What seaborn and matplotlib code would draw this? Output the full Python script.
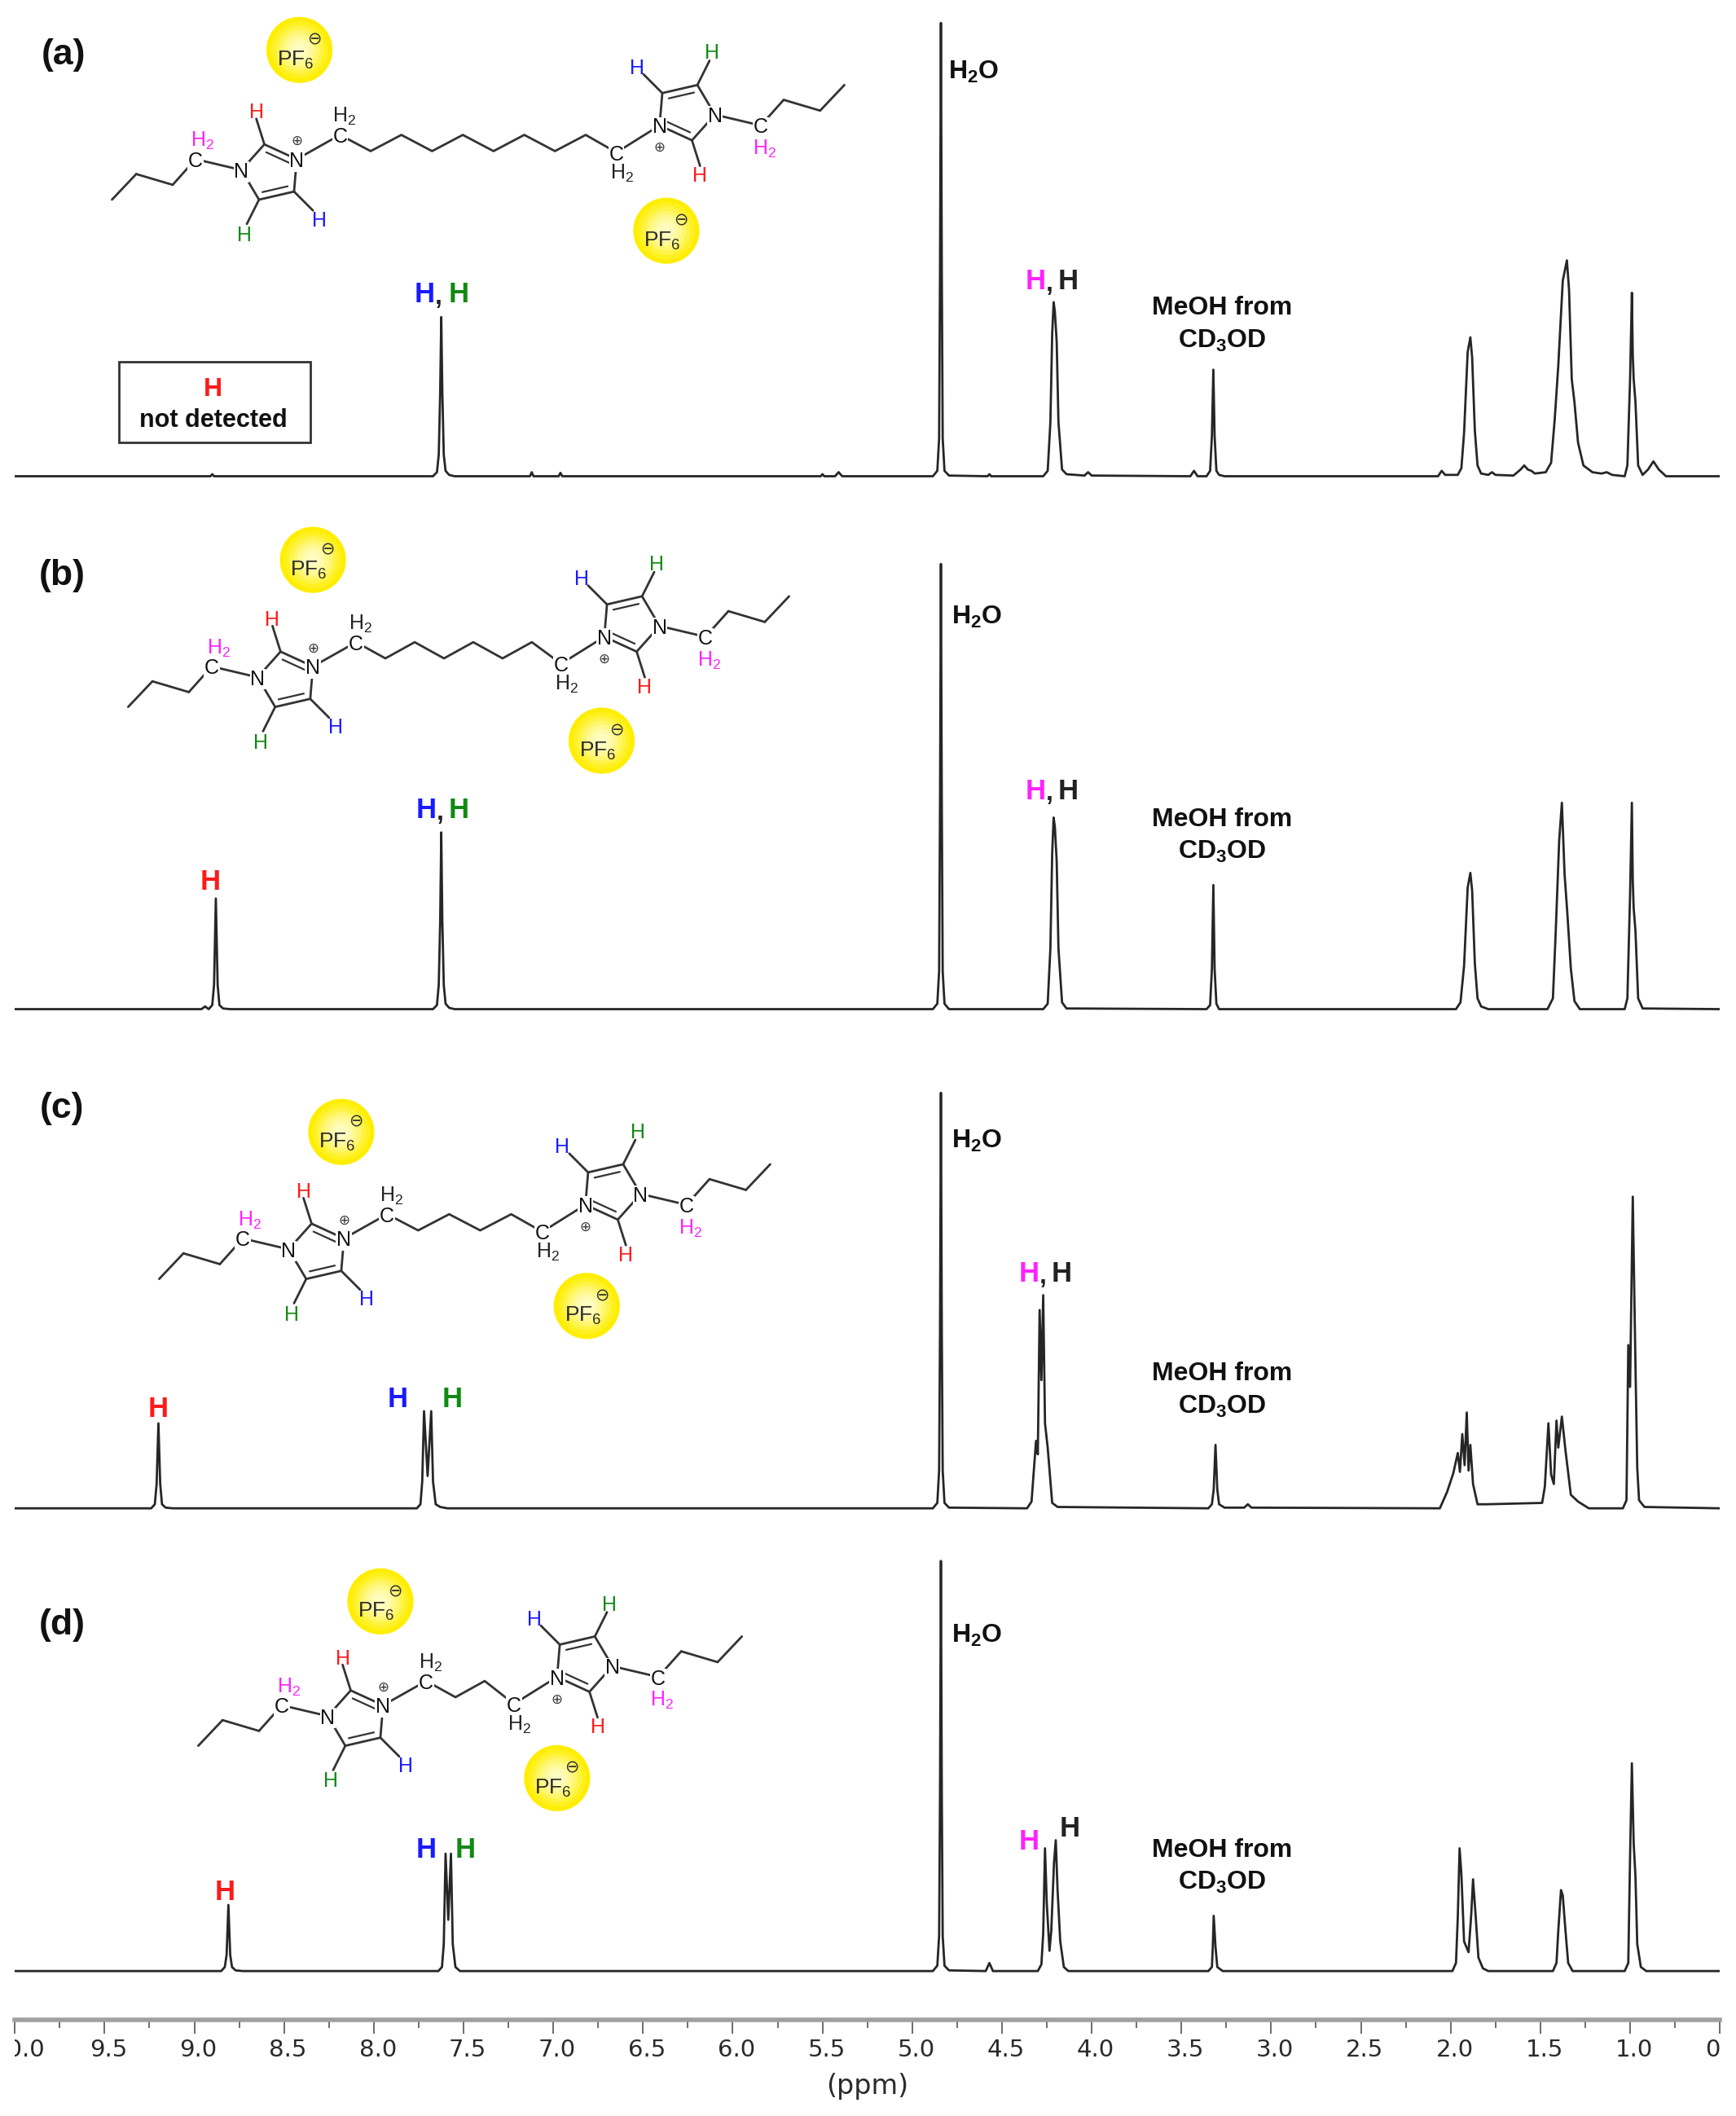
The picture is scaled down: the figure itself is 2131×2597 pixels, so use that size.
import numpy as np
import matplotlib
matplotlib.use("Agg")
import matplotlib.pyplot as plt
import seaborn as sns
from matplotlib.patches import Circle, Rectangle
from matplotlib.transforms import Bbox, ScaledTranslation

# spectra, ppm going down and intensity
ppm_a = [10.0, 8.91, 8.90, 8.89, 7.67, 7.648, 7.638, 7.63, 7.624, 7.618, 7.61, 7.60, 7.58, 7.55,
         7.13, 7.12, 7.11, 6.97, 6.96, 6.95, 5.51, 5.50, 5.49, 5.43, 5.41, 5.39,
         4.885, 4.86, 4.85, 4.845, 4.84, 4.835, 4.83, 4.82, 4.795, 4.58, 4.57, 4.56,
         4.27, 4.245, 4.23, 4.22, 4.212, 4.205, 4.195, 4.185, 4.165, 4.14, 4.04, 4.02, 4.0,
         3.45, 3.43, 3.41, 3.36, 3.34, 3.33, 3.322, 3.315, 3.305, 3.29, 3.26,
         2.07, 2.05, 2.03, 1.96, 1.94, 1.925, 1.905, 1.89, 1.88, 1.865, 1.85, 1.83, 1.79, 1.77, 1.75,
         1.65, 1.61, 1.59, 1.57, 1.55, 1.53, 1.47, 1.44, 1.42, 1.40, 1.375, 1.352, 1.34, 1.325, 1.31, 1.29, 1.26, 1.21, 1.16, 1.13, 1.10,
         1.03, 1.015, 1.0, 0.99, 0.985, 0.98, 0.97, 0.955, 0.93, 0.90, 0.87, 0.84, 0.80, 0.5]
int_a = [0, 0, 1.5, 0, 0, 3, 16, 62, 118, 62, 16, 4, 1, 0,
         0, 3, 0, 0, 2.5, 0, 0, 1.5, 0, 0, 3, 0,
         0, 4, 28, 150, 336, 150, 28, 4, 0.5, 0, 1.5, 0,
         0, 4, 40, 105, 129, 122, 100, 40, 5, 1.5, 0.5, 3, 0.5,
         0, 4, 0, 0, 4, 30, 79, 30, 4, 1, 0,
         0, 4, 1, 1, 6, 32, 92, 103, 88, 34, 8, 2, 1, 3, 1,
         0.5, 5, 8, 5, 4, 2, 3, 10, 42, 82, 145, 160, 138, 72, 55, 25, 8, 3, 2, 3, 1,
         0, 8, 72, 136, 90, 72, 55, 8, 1, 5, 11, 5, 0, 0]

ppm_b = [10.0, 8.96, 8.94, 8.92, 8.90, 8.89, 8.88, 8.87, 8.86, 8.84, 8.80, 7.67, 7.648, 7.638, 7.63, 7.624, 7.618, 7.61, 7.60, 7.58, 7.55,
         4.885, 4.86, 4.85, 4.845, 4.84, 4.835, 4.83, 4.82, 4.795,
         4.27, 4.245, 4.23, 4.22, 4.212, 4.205, 4.195, 4.185, 4.165, 4.14,
         3.36, 3.34, 3.33, 3.322, 3.315, 3.305, 3.29,
         1.97, 1.945, 1.925, 1.905, 1.89, 1.88, 1.865, 1.85, 1.83, 1.79,
         1.46, 1.43, 1.415, 1.395, 1.38, 1.365, 1.35, 1.33, 1.31, 1.28,
         1.03, 1.015, 1.0, 0.99, 0.985, 0.98, 0.97, 0.955, 0.93, 0.5]
int_b = [0, 0, 2, 0, 3, 18, 82, 18, 3, 0.5, 0, 0, 3, 18, 65, 131, 65, 18, 4, 1, 0,
         0, 4, 28, 150, 330, 150, 28, 4, 0,
         0, 4, 45, 115, 142, 135, 110, 45, 5, 0.5,
         0, 3, 30, 92, 30, 4, 0,
         0, 5, 32, 90, 101, 88, 34, 8, 2, 0,
         0, 8, 55, 125, 153, 100, 72, 30, 6, 0,
         0, 8, 85, 153, 95, 75, 58, 8, 0.5, 0]

ppm_c = [10.0, 9.24, 9.22, 9.21, 9.20, 9.19, 9.18, 9.16, 9.12,
         7.76, 7.74, 7.73, 7.72, 7.70, 7.68, 7.67, 7.655, 7.63, 7.59,
         4.885, 4.86, 4.85, 4.845, 4.84, 4.835, 4.83, 4.82, 4.795,
         4.36, 4.335, 4.31, 4.30, 4.29, 4.28, 4.27, 4.26, 4.245, 4.22, 4.19,
         3.35, 3.33, 3.32, 3.31, 3.30, 3.29, 3.26, 3.15, 3.13, 3.11,
         2.06, 2.02, 1.985, 1.96, 1.948, 1.935, 1.922, 1.91, 1.90, 1.89, 1.875, 1.85, 1.80, 1.49,
         1.475, 1.455, 1.44, 1.425, 1.41, 1.40, 1.38, 1.36, 1.33, 1.29, 1.23,
         1.04, 1.02, 1.01, 1.0, 0.985, 0.97, 0.96, 0.95, 0.92, 0.5]
int_c = [0, 0, 3, 18, 63, 18, 3, 0.5, 0,
         0, 3, 20, 72, 24, 72, 20, 3, 1, 0,
         0, 4, 28, 130, 308, 130, 28, 4, 0.5,
         0, 5, 50, 40, 147, 95, 158, 63, 45, 4, 1,
         0, 3, 14, 47, 14, 3, 0.5, 0.5, 3, 0.5,
         0, 12, 26, 41, 27, 55, 32, 71, 28, 47, 18, 3, 3, 4,
         16, 63, 25, 18, 65, 45, 68, 43, 10, 5, 0,
         0, 6, 121, 90, 231, 106, 30, 6, 1, 0]

ppm_d = [10.0, 8.85, 8.83, 8.82, 8.81, 8.80, 8.79, 8.77, 8.73,
         7.64, 7.62, 7.61, 7.60, 7.585, 7.57, 7.56, 7.545, 7.52,
         4.885, 4.86, 4.85, 4.845, 4.84, 4.835, 4.83, 4.82, 4.795,
         4.59, 4.57, 4.55, 4.30, 4.28, 4.27, 4.26, 4.25, 4.235, 4.225, 4.21, 4.20, 4.19, 4.175, 4.155, 4.13,
         3.35, 3.33, 3.325, 3.32, 3.31, 3.30, 3.27,
         1.99, 1.97, 1.96, 1.95, 1.94, 1.925, 1.90, 1.885, 1.875, 1.86, 1.845, 1.82, 1.79,
         1.43, 1.41, 1.40, 1.385, 1.375, 1.36, 1.345, 1.32,
         1.03, 1.01, 1.0, 0.99, 0.98, 0.97, 0.96, 0.94, 0.91, 0.5]
int_d = [0, 0, 3, 12, 49, 12, 3, 0.5, 0,
         0, 3, 20, 87, 38, 87, 20, 3, 0,
         0, 4, 26, 130, 304, 130, 26, 4, 0.5,
         0, 6, 0, 0, 5, 28, 91, 50, 15, 30, 80, 97, 60, 22, 3, 0,
         0, 3, 18, 41, 18, 3, 0,
         0, 6, 40, 91, 72, 22, 14, 42, 68, 40, 10, 2, 0,
         0, 6, 30, 60, 56, 30, 6, 0,
         0, 6, 85, 154, 95, 70, 20, 3, 0, 0]

spectra = {"a": (ppm_a, int_a), "b": (ppm_b, int_b), "c": (ppm_c, int_c), "d": (ppm_d, int_d)}
baselines = {"a": 353, "b": 748, "c": 1118, "d": 1461}
major_ticks = [10.0, 9.5, 9.0, 8.5, 8.0, 7.5, 7.0, 6.5, 6.0, 5.5, 5.0, 4.5, 4.0, 3.5, 3.0, 2.5, 2.0, 1.5, 1.0, 0.5]

S = 2131 / 1287  # layout numbers below are in a 1287 wide frame
W, H = 2131, 2597
BLUE, GREEN, RED, PINK = "#1a1aff", "#118a11", "#ff1a1a", "#ff22ff"
INK = "#222222"
BOND = "#333333"

sns.set_theme(style="white")
plt.rcParams["font.family"] = ["Liberation Sans", "DejaVu Sans"]
plt.rcParams["mathtext.fontset"] = "custom"
plt.rcParams["mathtext.rm"] = "Liberation Sans"
plt.rcParams["mathtext.bf"] = "Liberation Sans:bold"

fig = plt.figure(figsize=(W / 100, H / 100), dpi=100, facecolor="white")


def add_box(top, bottom):
    return fig.add_axes([11 * S / W, 1 - bottom * S / H, 1264 * S / W, (bottom - top) * S / H])


# one axes per spectrum, 1 intensity unit is one frame unit tall
for name, (ppm, intensity) in spectra.items():
    base = baselines[name]
    bottom = base + (36 if name == "d" else 6)
    ax = add_box(base - 345, bottom)
    sns.lineplot(x=ppm, y=intensity, sort=False, estimator=None, color="#262626", linewidth=2.0, ax=ax)
    ax.set_xlim(10.0, 0.5)
    ax.set_ylim(base - bottom, 345)
    ax.patch.set_alpha(0)
    ax.set_yticks([])
    sns.despine(ax=ax, left=True, right=True, top=True, bottom=name != "d")
    if name != "d":
        ax.set_xticks([])
        continue
    ax.spines["bottom"].set_color("#a0a0a0")
    ax.spines["bottom"].set_linewidth(4)
    ax.set_xticks(major_ticks)
    ax.set_xticklabels([f"{t:.1f}" for t in major_ticks], family="DejaVu Sans", fontsize=21, color="#2a2a2a")
    ax.set_xticks(np.array(major_ticks[:-1]) - 0.25, minor=True)
    ax.tick_params(axis="x", which="major", bottom=True, length=12, width=1.1, color="#444444", pad=5)
    ax.tick_params(axis="x", which="minor", bottom=True, length=7, width=1.1, color="#444444")
    shift = ScaledTranslation(3 * S / 100, 0, fig.dpi_scale_trans)
    clip = Bbox([[11 * S, 0], [1275 * S, H]])
    for lbl in ax.get_xticklabels():
        lbl.set_transform(lbl.get_transform() + shift)
        lbl.set_clip_box(clip)
        lbl.set_clip_on(True)
    ax.set_xlabel("(ppm)", family="DejaVu Sans", fontsize=24, color="#2a2a2a", labelpad=10)

# overlay in frame units for structures and labels
top = fig.add_axes([0, 0, 1, 1])
top.set_xlim(0, W / S)
top.set_ylim(H / S, 0)
top.axis("off")
top.patch.set_alpha(0)


def put(x, y, s, color="#111111", size=23, weight="bold", **kw):
    top.text(x, y + 1.5, s, color=color, fontsize=size, fontweight=weight, ha="center", va="center", **kw)


def ball(x, y):
    for k, shade in enumerate(["#ffee00", "#fff020", "#fff345", "#fff670", "#fff990", "#fffbad", "#fffcc0"]):
        top.add_patch(Circle((x, y), 24.5 - k * 3.2, color=shade, lw=0, zorder=2))
    put(x - 3, y + 6, r"$\mathrm{PF_6}$", color="#2a2a2a", size=19, weight="normal", zorder=3)
    put(x + 11, y - 9, "\u2296", color="#333333", size=15, weight="normal", family="DejaVu Sans", zorder=3)


# half a cation, offsets from the N+ atom; sign=-1 mirrors it for the other ring
N1, C2, C4, C5 = (-41, 8), (-24, -11), (-2, 24), (-28, 30)
TAIL = [(-137, 30), (-119, 11), (-92, 19), (-75, 0)]


def half(ax0, ay0, sign):
    p = lambda o: (ax0 + sign * o[0], ay0 + sign * o[1])
    def bond(a, b, lw=2.0):
        top.plot(*zip(p(a), p(b)), color=BOND, lw=lw, solid_capstyle="round", zorder=2)
    for a, b in zip(TAIL[:-1], TAIL[1:]):
        bond(a, b)
    for a, b in [(TAIL[-1], N1), (N1, C2), (C2, (0, 0)), ((0, 0), C4), (C4, C5), (C5, N1),
                 (C2, (-30, -30)), (C5, (-37, 48)), (C4, (12, 38))]:
        bond(a, b)
    centre = (-19, 10)
    for a, b in [(C2, (0, 0)), (C4, C5)]:
        ia = (a[0] + 0.28 * (centre[0] - a[0]) , a[1] + 0.28 * (centre[1] - a[1]))
        ib = (b[0] + 0.28 * (centre[0] - b[0]), b[1] + 0.28 * (centre[1] - b[1]))
        bond(ia, ib, lw=1.6)
    white = dict(facecolor="white", edgecolor="none", pad=0.6)
    put(*p((0, 0)), "N", size=18, weight="normal", bbox=white, zorder=3)
    put(*p(N1), "N", size=18, weight="normal", bbox=white, zorder=3)
    put(*p(TAIL[-1]), "C", size=18, weight="normal", bbox=white, zorder=3)
    put(*p((-30, -36)), "H", color=RED, size=18, weight="normal", zorder=3)
    put(*p((-39, 55)), "H", color=GREEN, size=18, weight="normal", zorder=3)
    put(*p((17, 44)), "H", color=BLUE, size=18, weight="normal", zorder=3)
    put(*p((-70, -15) if sign > 0 else (-78, -16)), r"$\mathrm{H_2}$", color=PINK, size=18, weight="normal", zorder=3)
    put(*p((0, -15)), "\u2295", color="#333333", size=12, weight="normal", family="DejaVu Sans", zorder=3)


def cation(left, right, n):
    half(*left, 1)
    half(*right, -1)
    c1 = (left[0] + 32, left[1] - 18)
    c2 = (right[0] - 32, right[1] + 20)
    xs = [c1[0] + (c2[0] - c1[0]) * i / n for i in range(n + 1)]
    ys = [c1[1] + (12 if i % 2 else 0) for i in range(n + 1)]
    ys[-1] = c2[1]
    top.plot(xs, ys, color=BOND, lw=2.0, zorder=2)
    top.plot([left[0], c1[0]], [left[1], c1[1]], color=BOND, lw=2.0, zorder=2)
    top.plot([right[0], c2[0]], [right[1], c2[1]], color=BOND, lw=2.0, zorder=2)
    white = dict(facecolor="white", edgecolor="none", pad=0.6)
    put(*c1, "C", size=18, weight="normal", bbox=white, zorder=3)
    put(*c2, "C", size=18, weight="normal", bbox=white, zorder=3)
    put(c1[0] + 3, c1[1] - 15, r"$\mathrm{H_2}$", color="#222222", size=18, weight="normal", zorder=3)
    put(c2[0] + 4, c2[1] + 14, r"$\mathrm{H_2}$", color="#222222", size=18, weight="normal", zorder=3)


cation((220, 118), (489, 93), 9)
cation((232, 494), (448, 472), 7)
cation((255, 918), (434, 893), 5)
cation((284, 1264), (413, 1243), 3)

for x, y in [(222, 37), (494, 171), (232, 415), (446, 549), (253, 839), (435, 968), (282, 1187), (413, 1318)]:
    ball(x, y)

for x, y, s in [(47, 39, "(a)"), (46, 425, "(b)"), (46, 820, "(c)"), (46, 1203, "(d)")]:
    put(x, y, s, size=32)

water = r"$\mathbf{H_2O}$"
for x, y in [(722, 52), (724, 456), (724, 844), (724, 1211)]:
    put(x, y, water)

cd3od = r"$\mathbf{CD_3OD}$"
for y in [227, 606, 1017, 1370]:
    put(906, y, "MeOH from")
    put(906, y + 24, cd3od)

peak_labels = [(315, 217, "H", BLUE), (325, 219, ",", INK), (340, 217, "H", GREEN),
               (768, 207, "H", PINK), (778, 209, ",", INK), (792, 207, "H", INK),
               (156, 652, "H", RED), (316, 599, "H", BLUE), (326, 601, ",", INK), (340, 599, "H", GREEN),
               (768, 585, "H", PINK), (778, 587, ",", INK), (792, 585, "H", INK),
               (117, 1043, "H", RED), (295, 1036, "H", BLUE), (335, 1036, "H", GREEN),
               (763, 943, "H", PINK), (773, 945, ",", INK), (787, 943, "H", INK),
               (167, 1401, "H", RED), (316, 1370, "H", BLUE), (345, 1370, "H", GREEN),
               (763, 1364, "H", PINK), (793, 1354, "H", INK)]
for x, y, s, c in peak_labels:
    put(x, y, s, color=c, size=25 if s == "H" else 23)

top.add_patch(Rectangle((88, 268), 142, 60, fill=False, edgecolor="#333333", lw=2))
put(158, 287, "H", color=RED, size=23)
put(158, 310, "not detected", size=22)

fig.savefig("out.png", dpi=100, facecolor="white")
